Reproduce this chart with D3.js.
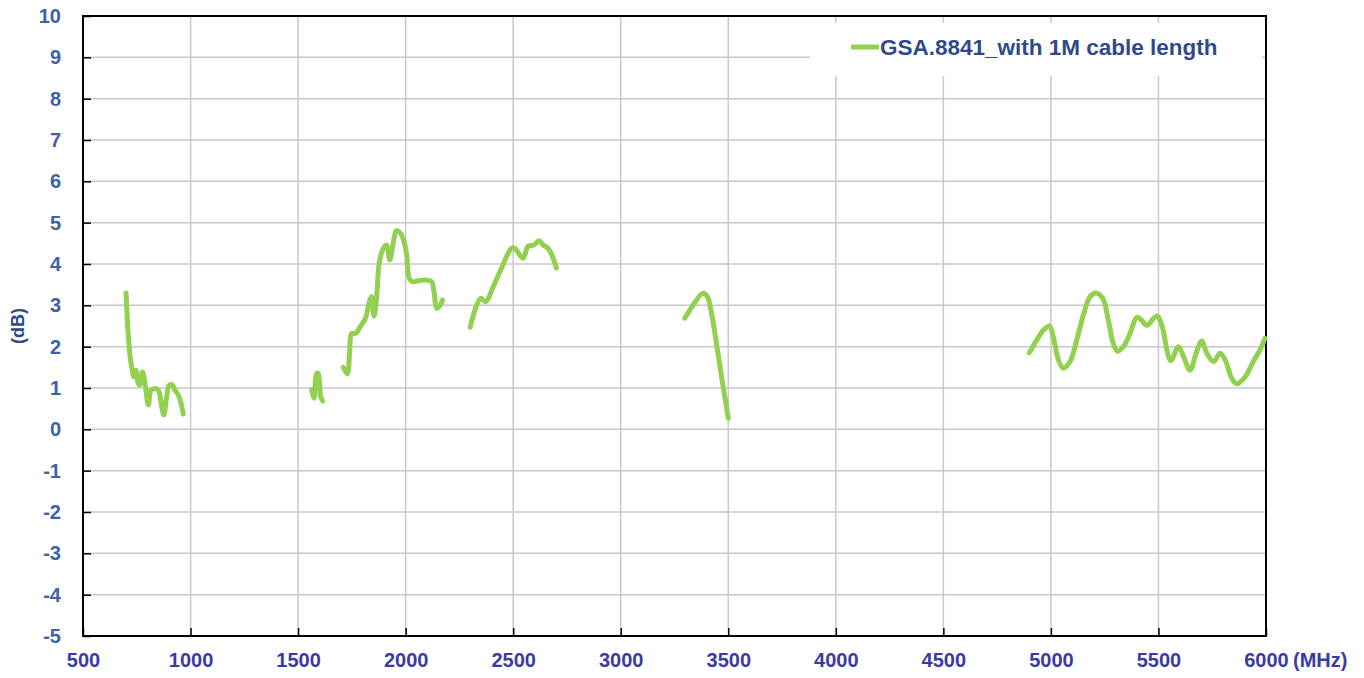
<!DOCTYPE html>
<html>
<head>
<meta charset="utf-8">
<script src="https://cdn.jsdelivr.net/npm/d3@7"></script>
<style>
  body { margin: 0; background: #fff; }
  svg { display: block; font-family: "Liberation Sans", Arial, sans-serif; }
</style>
</head>
<body>
<svg id="chart" width="1364" height="678"></svg>
<script>
var seriesName = "GSA.8841_with 1M cable length";

var band1Freq = [700, 711, 721, 729, 736, 746, 757, 765, 777, 788, 804, 816, 835, 850, 866, 876, 889, 901, 916, 927, 943, 954, 966];
var band1Db   = [3.30, 2.24, 1.68, 1.43, 1.27, 1.43, 1.11, 1.07, 1.39, 1.11, 0.59, 0.95, 0.99, 0.95, 0.55, 0.35, 0.79, 1.07, 1.07, 0.95, 0.83, 0.67, 0.37];

var band2Freq = [1563, 1574, 1586, 1594, 1605, 1614];
var band2Db   = [0.95, 0.75, 1.35, 1.35, 0.79, 0.69];

var band3Freq = [1710, 1729, 1740, 1749, 1769, 1788, 1811, 1834, 1842, 1853, 1865, 1877, 1893, 1911, 1926, 1942, 1957, 1970, 1988, 2004, 2017, 2032, 2066, 2097, 2121, 2133, 2144, 2156, 2172];
var band3Db   = [1.50, 1.34, 1.92, 2.32, 2.32, 2.48, 2.66, 3.13, 3.21, 2.74, 3.21, 4.02, 4.34, 4.46, 4.10, 4.50, 4.81, 4.78, 4.62, 4.26, 3.65, 3.57, 3.60, 3.61, 3.57, 3.29, 2.93, 2.97, 3.13];

var band4Freq = [2300, 2349, 2373, 2407, 2446, 2492, 2507, 2546, 2569, 2596, 2620, 2639, 2662, 2686, 2701];
var band4Db   = [2.47, 3.17, 3.09, 3.45, 3.90, 4.38, 4.38, 4.14, 4.43, 4.46, 4.56, 4.46, 4.38, 4.14, 3.90];

var band5Freq = [3298, 3337, 3381, 3402, 3422, 3445, 3469, 3489, 3500];
var band5Db   = [2.69, 3.01, 3.29, 3.22, 2.81, 2.08, 1.27, 0.63, 0.27];

var band6Freq = [4899, 4934, 4965, 4993, 5011, 5035, 5058, 5089, 5120, 5151, 5182, 5210, 5241, 5267, 5290, 5309, 5337, 5368, 5399, 5422, 5446, 5492, 5520, 5539, 5558, 5593, 5616, 5647, 5675, 5701, 5725, 5756, 5787, 5810, 5841, 5864, 5903, 5941, 5972, 5995];
var band6Db   = [1.85, 2.16, 2.40, 2.50, 2.24, 1.68, 1.48, 1.64, 2.16, 2.77, 3.21, 3.30, 3.17, 2.64, 2.08, 1.89, 2.00, 2.32, 2.71, 2.64, 2.52, 2.74, 2.44, 1.92, 1.66, 2.00, 1.77, 1.43, 1.84, 2.14, 1.84, 1.64, 1.84, 1.68, 1.23, 1.10, 1.27, 1.64, 1.92, 2.20];

var xTicks = [500, 1000, 1500, 2000, 2500, 3000, 3500, 4000, 4500, 5000, 5500, 6000];
var yTicks = [-5, -4, -3, -2, -1, 0, 1, 2, 3, 4, 5, 6, 7, 8, 9, 10];

var bands = [
  [band1Freq, band1Db], [band2Freq, band2Db], [band3Freq, band3Db],
  [band4Freq, band4Db], [band5Freq, band5Db], [band6Freq, band6Db]
].map(function(b) {
  return b[0].map(function(f, i) { return { f: f, db: b[1][i] }; });
});

var lineColor = "#92d050";
var gridColor = "#c8c8c8";

var svg = d3.select("#chart");
var plotL = 83, plotR = 1266, plotT = 16, plotB = 636;

var x = d3.scaleLinear().domain([500, 6000]).range([plotL, plotR]);
var y = d3.scaleLinear().domain([-5, 10]).range([plotB, plotT]);

// plain hyphen for negatives, like the original
var plain = function(d) { return String(d); };

// grid
svg.append("g").selectAll("line")
  .data(yTicks.slice(1, -1))
  .join("line")
  .attr("x1", plotL).attr("x2", plotR)
  .attr("y1", function(d) { return y(d); }).attr("y2", function(d) { return y(d); })
  .attr("stroke", gridColor).attr("stroke-width", 1.5);

svg.append("g").selectAll("line")
  .data(xTicks.slice(1, -1))
  .join("line")
  .attr("y1", plotT).attr("y2", plotB)
  .attr("x1", function(d) { return x(d); }).attr("x2", function(d) { return x(d); })
  .attr("stroke", gridColor).attr("stroke-width", 1.5);

// axes
var yAxis = svg.append("g")
  .attr("transform", "translate(" + plotL + ",0)")
  .call(d3.axisLeft(y).tickValues(yTicks).tickSize(-8).tickPadding(22).tickSizeOuter(0).tickFormat(plain));
yAxis.select(".domain").remove();
yAxis.selectAll("line").attr("stroke", "#000").attr("stroke-width", 1.5);
yAxis.selectAll("text")
  .attr("font-size", 20).attr("font-weight", "bold").attr("fill", "#3d62a8")
  .attr("font-family", "Liberation Sans, Arial, sans-serif");

var xAxis = svg.append("g")
  .attr("transform", "translate(0," + plotB + ")")
  .call(d3.axisBottom(x).tickValues(xTicks).tickSize(-8).tickPadding(17).tickSizeOuter(0).tickFormat(plain));
xAxis.select(".domain").remove();
xAxis.selectAll("line").attr("stroke", "#000").attr("stroke-width", 1.5);
xAxis.selectAll("text")
  .attr("font-size", 20).attr("font-weight", "bold").attr("fill", "#3b3ba6")
  .attr("font-family", "Liberation Sans, Arial, sans-serif");

svg.append("text")
  .attr("x", plotR + 27).attr("y", plotB + 17)
  .attr("dy", "0.71em")
  .attr("font-size", 20).attr("font-weight", "bold").attr("fill", "#3b3ba6")
  .text("(MHz)");

svg.append("text")
  .attr("transform", "translate(24," + ((plotT + plotB) / 2) + ") rotate(-90)")
  .attr("text-anchor", "middle")
  .attr("font-size", 18).attr("font-weight", "bold").attr("fill", "#2f4a8a")
  .text("(dB)");

// frame
svg.append("rect")
  .attr("x", plotL).attr("y", plotT)
  .attr("width", plotR - plotL).attr("height", plotB - plotT)
  .attr("fill", "none").attr("stroke", "#000").attr("stroke-width", 2);

// legend box covers the grid
svg.append("rect")
  .attr("x", 810).attr("y", 23).attr("width", 452).attr("height", 53)
  .attr("fill", "#fff");
svg.append("line")
  .attr("x1", 851).attr("x2", 879).attr("y1", 47).attr("y2", 47)
  .attr("stroke", lineColor).attr("stroke-width", 5);
svg.append("text")
  .attr("x", 880).attr("y", 55)
  .attr("font-size", 22.5).attr("font-weight", "bold").attr("fill", "#2f4a8a")
  .text(seriesName);

// curves
var line = d3.line()
  .x(function(d) { return x(d.f); })
  .y(function(d) { return y(d.db); })
  .curve(d3.curveCatmullRom.alpha(0.5));

svg.append("g").selectAll("path")
  .data(bands)
  .join("path")
  .attr("d", line)
  .attr("fill", "none")
  .attr("stroke", lineColor)
  .attr("stroke-width", 5)
  .attr("stroke-linejoin", "round")
  .attr("stroke-linecap", "round");
</script>
</body>
</html>
